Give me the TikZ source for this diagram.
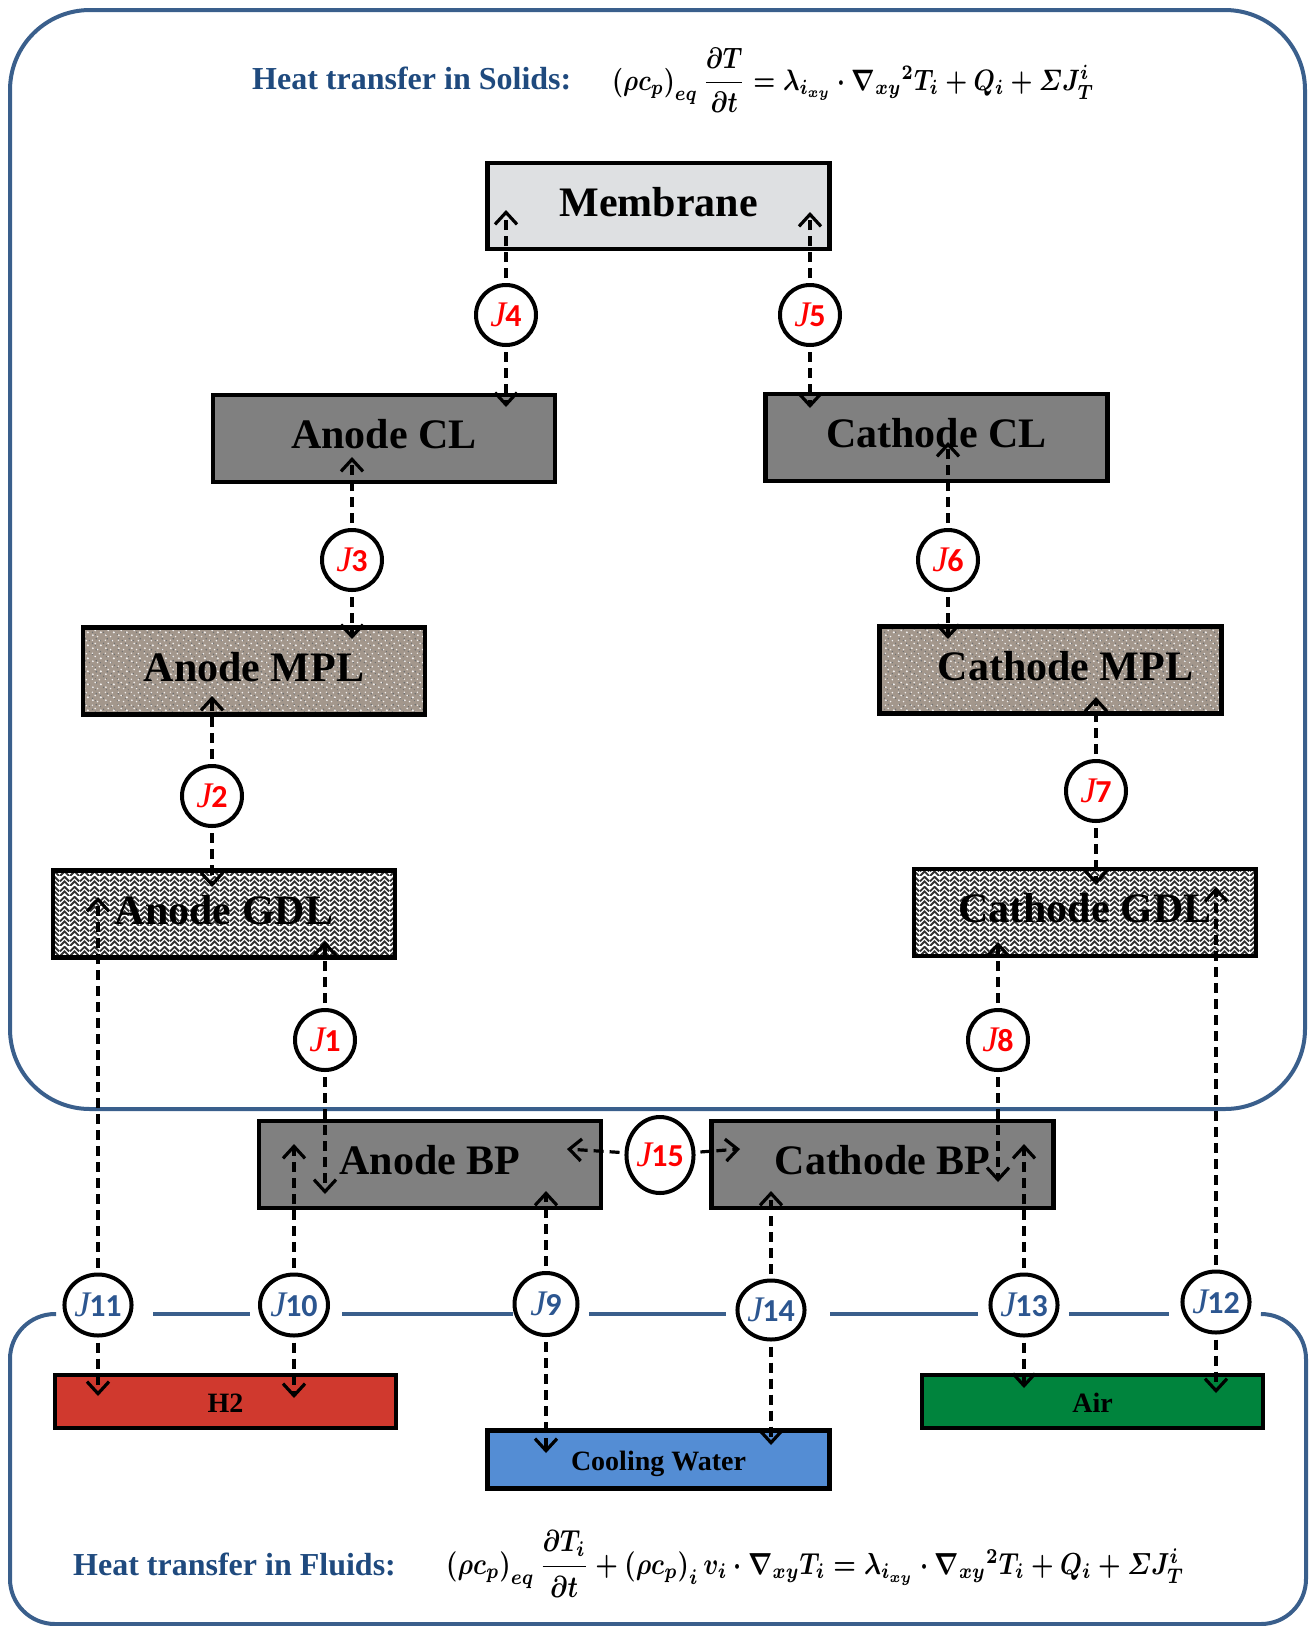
\documentclass[tikz,border=0pt]{standalone}
\usepackage{amsmath}
\usepackage{graphicx}
\usepackage{fontspec}
\setmainfont{Liberation Serif}
\newfontfamily\calib{Carlito}
\usetikzlibrary{arrows.meta,shapes.geometric,patterns}

\definecolor{frameblue}{HTML}{3A5F8C}
\definecolor{titleblue}{HTML}{1F4A7E}
\definecolor{jblue}{HTML}{2C5690}
\definecolor{clgray}{HTML}{808080}
\definecolor{mplc}{HTML}{A3978C}
\definecolor{memc}{HTML}{DEE0E2}
\definecolor{h2red}{HTML}{D0392E}
\definecolor{airgreen}{HTML}{00843D}
\definecolor{cwblue}{HTML}{548DD4}

\pgfdeclarepatternformonly{herring}{\pgfpointorigin}{\pgfpoint{10pt}{10pt}}{\pgfpoint{10pt}{10pt}}{%
  \pgfsetlinewidth{2pt}%
  \pgfpathmoveto{\pgfpoint{0pt}{0pt}}\pgfpathlineto{\pgfpoint{5pt}{5pt}}\pgfpathlineto{\pgfpoint{10pt}{0pt}}%
  \pgfpathmoveto{\pgfpoint{0pt}{5pt}}\pgfpathlineto{\pgfpoint{5pt}{10pt}}\pgfpathlineto{\pgfpoint{10pt}{5pt}}%
  \pgfusepath{stroke}}
\pgfdeclarepatternformonly{speckw}{\pgfpointorigin}{\pgfpoint{13pt}{13pt}}{\pgfpoint{13pt}{13pt}}{%
  \pgfpathcircle{\pgfpoint{2pt}{3pt}}{1.1pt}%
  \pgfpathcircle{\pgfpoint{7pt}{1.5pt}}{0.9pt}%
  \pgfpathcircle{\pgfpoint{10.5pt}{6pt}}{1.2pt}%
  \pgfpathcircle{\pgfpoint{4.5pt}{8pt}}{1pt}%
  \pgfpathcircle{\pgfpoint{9pt}{11pt}}{0.9pt}%
  \pgfpathcircle{\pgfpoint{1.5pt}{11.5pt}}{0.8pt}%
  \pgfusepath{fill}}
\pgfdeclarepatternformonly{speckd}{\pgfpointorigin}{\pgfpoint{11pt}{11pt}}{\pgfpoint{11pt}{11pt}}{%
  \pgfpathcircle{\pgfpoint{5pt}{4pt}}{0.9pt}%
  \pgfpathcircle{\pgfpoint{9pt}{9pt}}{1pt}%
  \pgfpathcircle{\pgfpoint{1.5pt}{7pt}}{0.8pt}%
  \pgfpathcircle{\pgfpoint{8pt}{1.5pt}}{0.7pt}%
  \pgfusepath{fill}}

\newcommand\jlab[1]{{\fontsize{36}{40}\selectfont\itshape J}\kern-1pt{\calib\bfseries #1}}

\begin{document}
\begin{tikzpicture}[x=1pt,y=-1pt,
  frame/.style={draw=frameblue, line width=4pt},
  box/.style={draw, line width=4.5pt, minimum width=342pt, minimum height=87pt, inner sep=0pt,
    font=\fontsize{42}{50}\selectfont\bfseries, text height=29pt, text depth=9pt},
  gdl/.style={box, preaction={fill=white}, pattern=herring, pattern color=black!80},
  mpl/.style={box, preaction={fill=mplc}, preaction={pattern=speckd, pattern color=black!55},
    pattern=speckw, pattern color=white!85!mplc},
  fbox/.style={draw, line width=4.5pt, minimum width=341pt, minimum height=53pt, inner sep=0pt,
    font=\fontsize{28}{34}\selectfont\bfseries, text height=23pt, text depth=2pt},
  jc/.style={draw, line width=4pt, fill=white, ellipse, minimum width=60pt, minimum height=60pt,
    inner sep=0pt, font=\fontsize{32}{36}\selectfont},
  jr/.style={jc, text=red},
  jb/.style={jc, text=jblue, minimum width=66pt, minimum height=61pt},
  jarr/.style={line width=3.2pt, dash pattern=on 10pt off 6pt,
    -{Straight Barb[length=12pt,width=22pt]}, shorten <=5pt},
  ttl/.style={text=titleblue, font=\fontsize{32}{38}\selectfont\bfseries, anchor=west, inner sep=0pt}
]
\useasboundingbox (0,0) rectangle (1313,1626);

% frames
\draw[frame, rounded corners=80pt] (10,10) rectangle (1305,1109);
\draw[frame, rounded corners=45pt] (56,1314) -- (10,1314) -- (10,1624) -- (1306,1624) -- (1306,1314) -- (1262,1314);
\draw[frame] (153,1314) -- (250,1314);
\draw[frame] (342,1314) -- (513,1314);
\draw[frame] (589,1314) -- (726,1314);
\draw[frame] (830,1314) -- (978,1314);
\draw[frame] (1069,1314) -- (1169,1314);

% titles and equations
\node[ttl] (tsol) at (252,78) {Heat transfer in Solids:};
\node[anchor=west, inner sep=0pt] (esol) at (612,80)
  {\scalebox{1}[1.2]{\resizebox{482pt}{!}{\boldmath$\left(\rho c_p\right)_{eq}\dfrac{\partial T}{\partial t}=\lambda_{i_{xy}}\cdot\nabla_{xy}{}^{2}T_i+Q_i+\varSigma J_T^i$}}};
\node[ttl] (tflu) at (73,1564) {Heat transfer in Fluids:};
\node[anchor=west, inner sep=0pt] (eflu) at (446,1564)
  {\scalebox{1}[1.2]{\resizebox{738pt}{!}{\boldmath$\left(\rho c_p\right)_{eq}\dfrac{\partial T_i}{\partial t}+\left(\rho c_p\right)_i v_i\cdot\nabla_{xy}T_i=\lambda_{i_{xy}}\cdot\nabla_{xy}{}^{2}T_i+Q_i+\varSigma J_T^i$}}};

% boxes
\node[box, fill=memc, minimum height=86pt] (mem) at (658.5,206) {Membrane};
\node[box, fill=clgray] (acl) at (384,438.5) {Anode CL};
\node[box, fill=clgray] (ccl) at (936.5,437.7) {Cathode CL};
\node[mpl] (ampl) at (254,671) {Anode MPL};
\node[mpl] (cmpl) at (1050.6,670) {\hspace*{30pt}Cathode MPL};
\node[gdl] (agdl) at (224,914) {Anode GDL};
\node[gdl] (cgdl) at (1084.8,912.7) {Cathode GDL};
\node[box, fill=clgray] (abp) at (430,1164.7) {Anode BP};
\node[box, fill=clgray] (cbp) at (882.6,1164.7) {Cathode BP};
\node[fbox, fill=h2red] (h2) at (225.5,1401.5) {H2};
\node[fbox, fill=cwblue, minimum width=342pt, minimum height=58pt] (cw) at (658.5,1459.5) {Cooling Water};
\node[fbox, fill=airgreen] (air) at (1092.5,1401.5) {Air};

% circles
\node[jr] (J4) at (506,315) {\jlab{4}};
\node[jr] (J5) at (810,315) {\jlab{5}};
\node[jr] (J3) at (352,560) {\jlab{3}};
\node[jr] (J6) at (948,560) {\jlab{6}};
\node[jr] (J2) at (212,796) {\jlab{2}};
\node[jr] (J7) at (1096,791) {\jlab{7}};
\node[jr] (J1) at (325,1040) {\jlab{1}};
\node[jr] (J8) at (998,1040) {\jlab{8}};
\node[jr, minimum width=67pt, minimum height=76pt] (J15) at (660,1155) {\jlab{15}};
\node[jb] (J11) at (98,1305) {\jlab{11}};
\node[jb, minimum width=68pt] (J10) at (294,1305) {\jlab{10}};
\node[jb, minimum width=63pt, minimum height=62pt] (J9) at (546,1304) {\jlab{9}};
\node[jb, minimum height=59pt] (J14) at (771,1310) {\jlab{14}};
\node[jb] (J13) at (1024,1305) {\jlab{13}};
\node[jb] (J12) at (1216,1302) {\jlab{12}};

% arrow tip coordinates
\coordinate (t4u) at (506,210);  \coordinate (t4d) at (506,407);
\coordinate (t5u) at (810,212);  \coordinate (t5d) at (810,408);
\coordinate (t3u) at (352,457);  \coordinate (t3d) at (352,639);
\coordinate (t6u) at (948,442);  \coordinate (t6d) at (948,639);
\coordinate (t2u) at (212,696);  \coordinate (t2d) at (212,887);
\coordinate (t7u) at (1096,697); \coordinate (t7d) at (1096,885);
\coordinate (t1u) at (325,941);  \coordinate (t1d) at (325,1194);
\coordinate (t8u) at (998,942);  \coordinate (t8d) at (998,1182);
\coordinate (t15l) at (567,1149); \coordinate (t15r) at (740,1149);
\coordinate (t11u) at (98,897);  \coordinate (t11d) at (98,1396);
\coordinate (t10u) at (294,1144); \coordinate (t10d) at (294,1398);
\coordinate (t9u) at (546,1191); \coordinate (t9d) at (546,1453);
\coordinate (t14u) at (771,1191); \coordinate (t14d) at (771,1445);
\coordinate (t13u) at (1024,1144); \coordinate (t13d) at (1024,1388);
\coordinate (t12u) at (1216,887); \coordinate (t12d) at (1216,1393);

% connectors
\foreach \j/\a/\b in {J4/t4u/t4d, J5/t5u/t5d, J3/t3u/t3d, J6/t6u/t6d, J2/t2u/t2d, J7/t7u/t7d,
  J1/t1u/t1d, J8/t8u/t8d, J15/t15l/t15r, J11/t11u/t11d, J10/t10u/t10d, J9/t9u/t9d,
  J14/t14u/t14d, J13/t13u/t13d, J12/t12u/t12d}{
  \draw[jarr] (\j) -- (\a);
  \draw[jarr] (\j) -- (\b);
}
\end{tikzpicture}
\end{document}
